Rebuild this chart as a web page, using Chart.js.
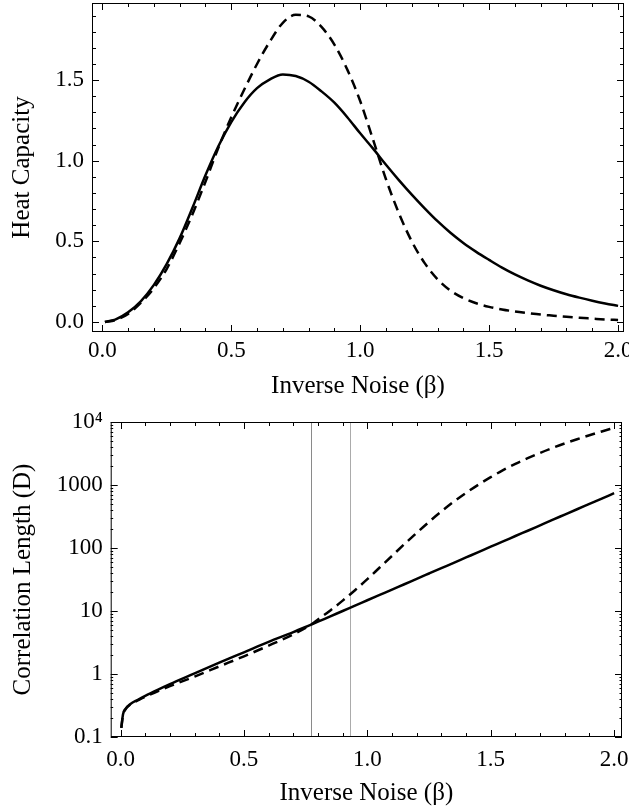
<!DOCTYPE html>
<html>
<head>
<meta charset="utf-8">
<script src="https://cdn.jsdelivr.net/npm/chart.js@4.4.1/dist/chart.umd.min.js"></script>
<style>
    html, body { margin: 0; padding: 0; background: #fff; }
    canvas { position: absolute; left: 0; }
    #heat { top: 0; }
    #corr { top: 400px; }
</style>
</head>
<body>
<canvas id="heat" width="629" height="400" style="width:629px;height:400px"></canvas>
<canvas id="corr" width="629" height="412" style="width:629px;height:412px"></canvas>
<script>
// --- data ---
const heatBeta = [0.01, 0.05, 0.1, 0.15, 0.2, 0.25, 0.3, 0.35, 0.4, 0.45, 0.5, 0.55, 0.6, 0.65, 0.7,
    0.75, 0.8, 0.85, 0.9, 0.95, 1.0, 1.05, 1.1, 1.15, 1.2, 1.25, 1.3, 1.35, 1.4, 1.45, 1.5,
    1.55, 1.6, 1.65, 1.7, 1.75, 1.8, 1.85, 1.9, 1.95, 2.0];
const heatSolid = [0.0, 0.015, 0.06, 0.13, 0.23, 0.36, 0.52, 0.71, 0.91, 1.09, 1.24, 1.36, 1.45, 1.505, 1.535,
    1.525, 1.49, 1.43, 1.36, 1.27, 1.17, 1.075, 0.975, 0.88, 0.79, 0.705, 0.625, 0.553, 0.49, 0.435, 0.385,
    0.337, 0.295, 0.258, 0.225, 0.197, 0.172, 0.151, 0.132, 0.115, 0.1];
const heatDashed = [0.0, 0.012, 0.05, 0.12, 0.21, 0.33, 0.49, 0.67, 0.87, 1.08, 1.27, 1.44, 1.6, 1.74, 1.855,
    1.905, 1.895, 1.83, 1.72, 1.565, 1.37, 1.13, 0.885, 0.675, 0.5, 0.365, 0.265, 0.195, 0.148, 0.116, 0.094,
    0.078, 0.065, 0.055, 0.046, 0.039, 0.032, 0.026, 0.021, 0.016, 0.012];

const corrBeta = [0.003, 0.01, 0.02, 0.04, 0.07, 0.1, 0.15, 0.2, 0.3, 0.4, 0.5, 0.6, 0.7, 0.77, 0.8,
    0.85, 0.9, 0.95, 1.0, 1.05, 1.1, 1.15, 1.2, 1.25, 1.3, 1.35, 1.4, 1.45, 1.5, 1.55, 1.6, 1.65,
    1.7, 1.75, 1.8, 1.85, 1.9, 1.95, 2.0];
const corrSolid = [0.14, 0.23, 0.28, 0.335, 0.39, 0.45, 0.56, 0.69, 1.02, 1.51, 2.21, 3.24, 4.62, 6.03, 6.76,
    8.24, 10.0, 12.2, 14.8, 18.0, 21.9, 26.6, 32.4, 39.4, 47.9, 58.2, 70.8, 86.1, 105, 127, 155, 188,
    229, 279, 339, 412, 501, 609, 741];
const corrDashed = [0.14, 0.225, 0.275, 0.33, 0.38, 0.435, 0.53, 0.64, 0.91, 1.32, 1.91, 2.82, 4.27, 6.03, 7.33,
    10.2, 14.6, 21.4, 32.0, 49.0, 75.0, 115, 174, 260, 380, 543, 750, 1012, 1334, 1718, 2163, 2661,
    3236, 3873, 4571, 5333, 6166, 7079, 8091];
const markerBeta = [0.77, 0.93];

const betaTicks = [0, 0.5, 1, 1.5, 2];
const heatTicks = [0, 0.5, 1, 1.5];
const corrTicks = [0.1, 1, 10, 100, 1000, 10000];
const corrTickLabels = ['0.1', '1', '10', '100', '1000', '10\u2074'];

const SERIF = "'Liberation Serif', 'Times New Roman', serif";
const FONT = { family: SERIF, size: 23 };
const TITLE_FONT = { family: SERIF, size: 25, lineHeight: 1 };

const pts = (xs, ys) => xs.map((x, i) => ({ x, y: ys[i] }));

function steps(from, to, step) {
    const out = [];
    for (let v = from; v <= to + 1e-9; v += step) out.push(Math.round(v * 1000) / 1000);
    return out;
}
function logMinor(lo, hi) {
    const out = [];
    for (let d = lo; d < hi; d *= 10) {
        for (let k = 1; k < 10; k++) out.push(d * k);
    }
    out.push(hi);
    return out;
}

// Mathematica-style frame: black box with inward ticks on all four sides
const frameTicks = {
    id: 'frameTicks',
    beforeDatasetsDraw(chart, args, opts) {
        const { ctx, chartArea: a, scales } = chart;
        (opts.markers || []).forEach((m, i) => {
            const px = Math.round(scales.x.getPixelForValue(m)) + 0.5;
            ctx.save();
            ctx.strokeStyle = i === 0 ? '#8a8a8a' : '#ababab';
            ctx.lineWidth = 1;
            ctx.beginPath();
            ctx.moveTo(px, a.top);
            ctx.lineTo(px, a.bottom);
            ctx.stroke();
            ctx.restore();
        });
    },
    afterDatasetsDraw(chart, args, opts) {
        const { ctx, chartArea: a, scales } = chart;
        ctx.save();
        ctx.strokeStyle = '#000';
        ctx.lineWidth = 1;
        ctx.strokeRect(a.left + 0.5, a.top + 0.5, a.right - a.left - 1, a.bottom - a.top - 1);
        ctx.beginPath();
        const isMajor = (v, list) => list.some(t => Math.abs(t - v) < 1e-6 * Math.max(1, Math.abs(t)));
        opts.xMinor.forEach(v => {
            const len = isMajor(v, opts.xMajor) ? 7 : 4;
            const px = Math.round(scales.x.getPixelForValue(v)) + 0.5;
            ctx.moveTo(px, a.bottom); ctx.lineTo(px, a.bottom - len);
            ctx.moveTo(px, a.top); ctx.lineTo(px, a.top + len);
        });
        opts.yMinor.forEach(v => {
            const len = isMajor(v, opts.yMajor) ? 7 : (opts.yShort ? 2.5 : 4);
            const py = Math.round(scales.y.getPixelForValue(v)) + 0.5;
            if (py < a.top - 1 || py > a.bottom + 1) return;
            ctx.moveTo(a.left, py); ctx.lineTo(a.left + len, py);
            ctx.moveTo(a.right, py); ctx.lineTo(a.right - len, py);
        });
        ctx.stroke();
        ctx.restore();
    }
};

function xScale(min, max, height, titlePad, tickPad) {
    return {
        type: 'linear', min, max,
        grid: { display: false, drawTicks: false },
        border: { display: false },
        afterBuildTicks: s => { s.ticks = betaTicks.map(v => ({ value: v })); },
        afterFit: s => { s.height = height; s.paddingLeft = 0; s.paddingRight = 0; },
        ticks: { font: FONT, color: '#000', padding: tickPad, autoSkip: false, maxRotation: 0,
            callback: v => Number(v).toFixed(1) },
        title: { display: true, text: 'Inverse Noise (\u03b2)', font: TITLE_FONT, color: '#000',
            padding: { top: 0, bottom: titlePad } }
    };
}

const lineSet = (data, dashed) => ({
    data,
    borderColor: '#000',
    borderWidth: 2.5,
    borderDash: dashed ? [10, 6] : [],
    pointRadius: 0,
    cubicInterpolationMode: 'monotone',
    fill: false
});

new Chart(document.getElementById('heat'), {
    type: 'line',
    data: { datasets: [lineSet(pts(heatBeta, heatSolid), false), lineSet(pts(heatBeta, heatDashed), true)] },
    options: {
        responsive: false,
        animation: false,
        layout: { padding: { top: 3, right: 5, left: 0, bottom: 0 } },
        plugins: {
            legend: { display: false },
            tooltip: { enabled: false },
            frameTicks: { xMinor: steps(0, 2, 0.1), xMajor: betaTicks, yMinor: steps(0, 1.9, 0.1), yMajor: heatTicks }
        },
        scales: {
            x: xScale(-0.04, 2.023, 68, 1.5, 5),
            y: {
                type: 'linear', min: -0.062, max: 1.978,
                grid: { display: false, drawTicks: false },
                border: { display: false },
                afterBuildTicks: s => { s.ticks = heatTicks.map(v => ({ value: v })); },
                afterFit: s => { s.width = 92; s.paddingTop = 0; s.paddingBottom = 0; },
                ticks: { font: FONT, color: '#000', padding: 8, autoSkip: false,
                    callback: v => Number(v).toFixed(1) },
                title: { display: true, text: 'Heat Capacity', font: TITLE_FONT, color: '#000',
                    padding: { top: 9.5, bottom: 0 } }
            }
        }
    },
    plugins: [frameTicks]
});

new Chart(document.getElementById('corr'), {
    type: 'line',
    data: { datasets: [lineSet(pts(corrBeta, corrSolid), false), lineSet(pts(corrBeta, corrDashed), true)] },
    options: {
        responsive: false,
        animation: false,
        layout: { padding: { top: 22, right: 7, left: 0, bottom: 0 } },
        plugins: {
            legend: { display: false },
            tooltip: { enabled: false },
            frameTicks: { xMinor: steps(0, 2, 0.1), xMajor: betaTicks, yMinor: logMinor(0.1, 10000),
                yMajor: corrTicks, yShort: true, markers: markerBeta }
        },
        scales: {
            x: xScale(-0.04, 2.032, 75, 6.5, 9),
            y: {
                type: 'logarithmic', min: 0.1, max: 10000,
                grid: { display: false, drawTicks: false },
                border: { display: false },
                afterBuildTicks: s => { s.ticks = corrTicks.map(v => ({ value: v, major: true })); },
                afterFit: s => { s.width = 110.7; s.paddingTop = 0; s.paddingBottom = 0; },
                ticks: { font: FONT, color: '#000', padding: 8, autoSkip: false,
                    callback: (v, i) => corrTickLabels[i] },
                title: { display: true, text: 'Correlation Length (D)', font: TITLE_FONT, color: '#000',
                    padding: { top: 10.5, bottom: 0 } }
            }
        }
    },
    plugins: [frameTicks]
});
</script>
</body>
</html>
